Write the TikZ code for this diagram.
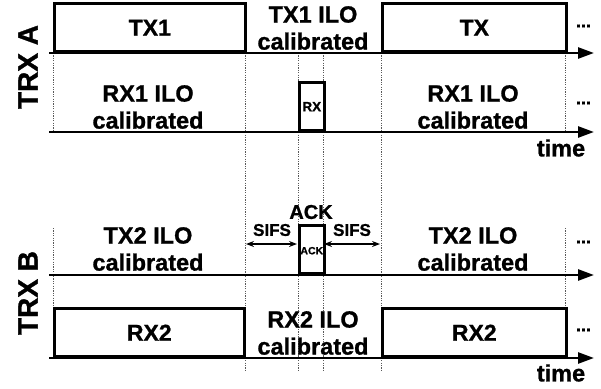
\documentclass[tikz,border=0pt]{standalone}
\usepackage{fontspec}
\setmainfont{Liberation Sans}[BoldFeatures={FakeBold=1}]
\usetikzlibrary{arrows.meta}
\begin{document}
\begin{tikzpicture}[x=1pt,y=-1pt,
  every node/.style={font=\bfseries, inner sep=0pt},
  axis/.style={line width=2.6pt, -{Triangle[length=16pt,width=11pt]}},
  slot/.style={draw, line width=2.6pt, inner sep=0pt, anchor=south west},
  guide/.style={gray!70!black, line width=0.6pt, dash pattern=on 1.2pt off 1.2pt},
  big/.style={font=\fontsize{23.5}{27}\selectfont\bfseries, align=center},
  boxlabel/.style={font=\fontsize{23}{26}\selectfont\bfseries},
  dots/.style={font=\fontsize{18}{18}\selectfont\bfseries},
  sifs/.style={line width=1.3pt, {Stealth[length=8pt,width=6pt]}-{Stealth[length=8pt,width=6pt]}}]
\useasboundingbox (0,0) rectangle (601,388);

% guide coordinates
\foreach \n/\x in {a/53,b/245,c/298,d/323,e/381,f/565}{
  \coordinate (g\n1) at (\x,53);
  \coordinate (g\n2) at (\x,132);
  \coordinate (g\n3) at (\x,228);
  \coordinate (g\n4) at (\x,358);
  \coordinate (g\n5) at (\x,372);
}
\draw[guide] (ga1) -- (ga2) (ga3) -- (ga4);
\draw[guide] (gf1) -- (gf2) (gf3) -- (gf4);
\draw[guide] (gb1) -- (gb5) (gc1) -- (gc5) (gd1) -- (gd5) (ge1) -- (ge5);

% boxes TRX A
\node[slot, minimum width=191pt, minimum height=48pt] (tx1) at (53,53) {};
\node[boxlabel] at (tx1.center) {TX1};
\node[slot, minimum width=184pt, minimum height=48pt] (tx) at (381,53) {};
\node[boxlabel] at (tx.center) {TX};
\node[slot, minimum width=25pt, minimum height=48pt] (rxa) at (298,132) {};
\node[font=\fontsize{13.5}{14}\selectfont\bfseries] at (rxa.center) {RX};

% boxes TRX B
\node[slot, minimum width=190pt, minimum height=48pt] (rx2a) at (53,358) {};
\node[boxlabel] at (rx2a.center) {RX2};
\node[slot, minimum width=184pt, minimum height=48pt] (rx2b) at (381,358) {};
\node[boxlabel] at (rx2b.center) {RX2};
\node[slot, minimum width=25pt, minimum height=48pt] (ack) at (298,275) {};
\node[font=\fontsize{10.5}{11}\selectfont\bfseries] at ([yshift=-1pt]ack.center) {ACK};

% axes
\coordinate (a1s) at (49,53);  \coordinate (a1e) at (594,53);
\coordinate (a2s) at (49,132); \coordinate (a2e) at (594,132);
\coordinate (b1s) at (49,275); \coordinate (b1e) at (594,275);
\coordinate (b2s) at (49,358); \coordinate (b2e) at (594,358);
\draw[axis] (a1s) -- (a1e);
\draw[axis] (a2s) -- (a2e);
\draw[axis] (b1s) -- (b1e);
\draw[axis] (b2s) -- (b2e);

% labels
\node[big] (l1) at (313,28) {TX1 ILO\\calibrated};
\node[big] (l2) at (148,107) {RX1 ILO\\calibrated};
\node[big] (l3) at (473,107) {RX1 ILO\\calibrated};
\node[big] (l4) at (148,249) {TX2 ILO\\calibrated};
\node[big] (l5) at (473,249) {TX2 ILO\\calibrated};
\node[big] (l6) at (313,333) {RX2 ILO\\calibrated};
\node[big] (t1) at (561,148) {time};
\node[big] (t2) at (561,373) {time};

\node[big, font=\fontsize{28}{30}\selectfont\bfseries, rotate=90] (trxa) at (28,67) {TRX A};
\node[big, font=\fontsize{28}{30}\selectfont\bfseries, rotate=90] (trxb) at (28,293) {TRX B};

\node[dots] (d1) at (583.5,26) {...};
\node[dots] (d2) at (583.5,103) {...};
\node[dots] (d3) at (583.5,242) {...};
\node[dots] (d4) at (583.5,330) {...};

% SIFS / ACK
\node[font=\fontsize{20}{22}\selectfont\bfseries] (ackl) at (311,212) {ACK};
\node[font=\fontsize{17}{20}\selectfont\bfseries] (s1) at (272,230) {SIFS};
\node[font=\fontsize{17}{20}\selectfont\bfseries] (s2) at (352,230) {SIFS};
\coordinate (sa1) at (246,244); \coordinate (sa2) at (297,244);
\coordinate (sb1) at (324,244); \coordinate (sb2) at (380,244);
\draw[sifs] (sa1) -- (sa2);
\draw[sifs] (sb1) -- (sb2);
\end{tikzpicture}
\end{document}
